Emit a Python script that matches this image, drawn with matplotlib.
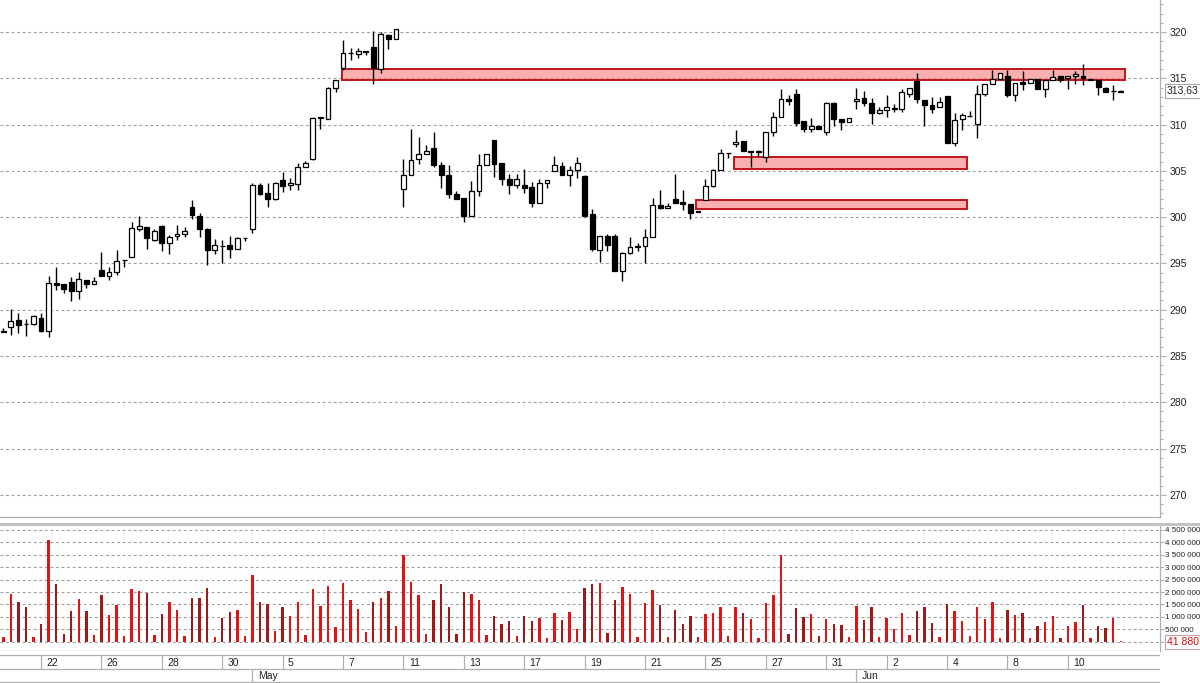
import matplotlib
matplotlib.use('Agg')
import matplotlib.pyplot as plt
import matplotlib.transforms as mtransforms
from matplotlib.patches import Rectangle
from matplotlib.lines import Line2D
from matplotlib.ticker import MultipleLocator, FixedLocator
import numpy as np

# ---------------- data (2-hour bars, 4 per session) ----------------
opens = [287.6, 288.1, 288.9, 288.45, 288.4, 289.1, 287.7, 292.9, 292.8, 293.0,
         292.0, 293.2, 292.8, 294.3, 293.6, 294.1, 295.35, 295.7, 298.7, 298.9,
         297.55, 299.0, 297.2, 298.0, 298.2, 301.1, 300.1, 298.7, 296.4, 296.9,
         297.0, 296.6, 297.7, 298.7, 303.5, 302.6, 302.0, 304.0, 303.45, 303.55,
         305.45, 306.25, 310.7, 310.6, 314.0, 316.1, 317.7, 317.65, 317.85, 318.35,
         316.05, 319.7, 319.3, 303.0, 304.6, 306.3, 306.8, 307.5, 305.6, 304.5,
         302.55, 302.1, 300.1, 302.8, 305.6, 308.3, 305.8, 304.1, 303.5, 303.5,
         303.3, 301.5, 303.7, 305.0, 305.5, 304.6, 305.05, 304.4, 300.3, 296.5,
         298.0, 298.0, 294.2, 296.1, 296.8, 296.9, 297.8, 301.3, 301.0, 302.0,
         301.6, 301.4, 300.55, 301.8, 303.4, 305.05, 306.9, 307.9, 308.2, 307.05,
         307.05, 306.5, 309.2, 310.8, 312.8, 313.35, 310.35, 309.55, 309.8, 309.2,
         312.3, 310.65, 310.3, 312.6, 312.9, 312.3, 311.25, 311.55, 311.7, 311.7,
         313.35, 314.7, 312.7, 312.1, 311.9, 313.05, 308.0, 310.65, 310.9, 310.1,
         313.35, 314.4, 314.95, 315.3, 313.15, 314.6, 314.5, 314.95, 313.8, 314.85,
         315.3, 315.0, 315.2, 315.3, 314.85, 314.85, 313.9, 313.6, 313.5]
highs = [288.0, 290.1, 289.6, 289.0, 289.45, 289.6, 293.6, 294.6, 292.8, 293.5,
         294.1, 293.2, 293.5, 296.25, 294.6, 296.4, 295.4, 299.5, 300.1, 298.9,
         298.7, 299.1, 298.1, 299.1, 298.9, 301.8, 300.4, 298.8, 297.6, 297.5,
         298.0, 297.8, 297.75, 303.7, 303.7, 303.7, 303.8, 304.9, 304.2, 305.8,
         306.05, 310.8, 310.8, 314.05, 314.8, 319.1, 318.3, 318.3, 317.9, 320.1,
         320.0, 319.75, 320.35, 306.3, 309.5, 308.7, 307.8, 309.2, 306.0, 305.6,
         302.8, 302.1, 303.9, 306.8, 306.8, 308.3, 305.8, 304.7, 304.7, 305.2,
         303.8, 304.1, 304.0, 306.6, 306.0, 305.5, 306.5, 304.5, 300.9, 298.0,
         298.2, 298.2, 296.2, 297.8, 297.2, 298.7, 302.1, 302.9, 301.5, 304.7,
         302.9, 301.4, 300.7, 304.1, 305.2, 307.4, 306.95, 309.45, 308.2, 307.1,
         307.3, 309.2, 311.4, 313.8, 313.2, 313.8, 310.35, 310.75, 309.8, 312.45,
         312.45, 310.65, 310.7, 314.0, 313.6, 312.9, 311.9, 313.2, 312.25, 313.8,
         313.9, 315.6, 312.7, 313.0, 312.95, 313.05, 311.3, 311.3, 311.45, 314.3,
         314.4, 315.9, 315.6, 315.9, 314.5, 315.8, 314.95, 314.95, 314.85, 315.9,
         315.3, 315.3, 315.75, 316.55, 314.9, 314.85, 314.05, 314.25, 313.7]
lows = [287.55, 287.3, 287.5, 287.2, 288.3, 287.6, 287.0, 292.1, 291.8, 290.9,
        291.2, 292.3, 292.8, 293.6, 293.2, 293.7, 294.6, 295.7, 298.5, 296.6,
        297.4, 296.3, 296.0, 297.5, 297.9, 299.8, 297.9, 294.8, 296.0, 295.0,
        295.6, 296.6, 297.4, 298.3, 302.4, 301.1, 301.9, 302.75, 302.9, 302.9,
        305.45, 306.2, 309.5, 310.6, 313.55, 315.95, 317.0, 317.2, 317.5, 314.4,
        315.6, 318.2, 319.25, 301.1, 304.6, 305.7, 306.8, 305.4, 303.1, 302.1,
        302.0, 299.5, 300.1, 302.3, 305.6, 304.35, 303.5, 302.45, 303.2, 302.6,
        301.1, 301.5, 303.2, 305.0, 304.5, 303.4, 304.25, 300.0, 296.3, 295.1,
        296.3, 294.2, 293.1, 296.0, 296.3, 295.0, 297.8, 300.9, 301.0, 301.55,
        300.75, 299.75, 300.55, 301.8, 303.3, 305.05, 306.4, 307.6, 307.1, 305.4,
        306.6, 306.0, 308.75, 310.8, 312.1, 309.8, 309.2, 309.2, 309.5, 308.85,
        309.8, 309.4, 310.3, 311.7, 312.0, 310.1, 311.1, 310.8, 311.35, 311.35,
        313.0, 312.3, 309.9, 311.25, 311.85, 308.0, 307.65, 309.45, 310.8, 308.6,
        313.05, 314.4, 314.95, 312.95, 312.6, 313.7, 314.5, 313.8, 313.0, 314.85,
        314.6, 313.85, 314.4, 314.3, 314.85, 313.15, 313.5, 312.7, 313.5]
closes = [287.6, 288.75, 288.35, 288.4, 289.35, 287.65, 292.9, 292.7, 292.2, 292.0,
          293.3, 292.8, 293.1, 293.6, 294.1, 295.3, 295.4, 298.8, 299.0, 297.7,
          298.5, 297.25, 297.9, 298.2, 298.5, 300.2, 298.7, 296.4, 297.0, 296.85,
          296.6, 297.7, 297.75, 303.5, 302.5, 302.0, 303.7, 303.4, 303.7, 305.45,
          305.9, 310.7, 310.75, 314.0, 314.8, 317.7, 317.75, 317.9, 317.9, 316.1,
          319.75, 319.3, 320.3, 304.6, 306.15, 306.8, 307.15, 305.6, 304.5, 302.55,
          302.0, 300.1, 302.8, 305.6, 306.8, 305.75, 304.1, 303.5, 304.1, 303.2,
          301.5, 303.7, 304.0, 305.6, 304.6, 305.1, 305.9, 300.1, 296.6, 298.0,
          297.0, 294.2, 296.15, 296.8, 296.85, 297.8, 301.3, 301.0, 301.2, 301.55,
          301.4, 300.5, 300.7, 303.4, 305.1, 306.9, 306.95, 308.1, 307.1, 307.05,
          307.1, 309.2, 310.8, 312.8, 312.6, 310.2, 309.55, 309.8, 309.5, 312.3,
          310.65, 310.3, 310.7, 312.8, 312.3, 311.25, 311.55, 311.85, 311.75, 313.5,
          313.9, 312.8, 312.15, 311.7, 312.45, 308.0, 310.5, 311.0, 310.95, 313.35,
          314.4, 314.95, 315.55, 313.15, 314.5, 314.4, 314.95, 313.8, 314.85, 315.15,
          314.85, 315.3, 315.5, 315.0, 314.85, 314.05, 313.5, 313.6, 313.63]
volumes = [175000, 1920000, 1590000, 1410000, 190000, 710000, 4100000, 2340000, 300000, 1240000,
           1720000, 1240000, 260000, 1880000, 1090000, 1490000, 230000, 2140000, 2040000, 1950000,
           260000, 1120000, 1590000, 1290000, 230000, 1750000, 1750000, 2150000, 190000, 970000,
           1180000, 1280000, 230000, 2670000, 1590000, 1520000, 420000, 1380000, 1050000, 1610000,
           260000, 2110000, 1450000, 2240000, 580000, 2380000, 1680000, 1320000, 390000, 1590000,
           1770000, 2040000, 650000, 3510000, 2410000, 1880000, 300000, 1680000, 2340000, 1380000,
           320000, 1990000, 1910000, 1680000, 280000, 1050000, 710000, 830000, 230000, 1050000,
           830000, 950000, 160000, 1140000, 860000, 1180000, 510000, 2180000, 2340000, 2380000,
           360000, 1680000, 2220000, 1910000, 200000, 1550000, 2080000, 1490000, 170000, 1280000,
           700000, 1050000, 190000, 1100000, 1160000, 1410000, 230000, 1410000, 1140000, 910000,
           160000, 1550000, 1880000, 3490000, 300000, 1340000, 980000, 1100000, 230000, 910000,
           710000, 690000, 190000, 1440000, 870000, 1380000, 190000, 970000, 510000, 1140000,
           260000, 1250000, 1410000, 740000, 190000, 1510000, 1250000, 830000, 230000, 1410000,
           910000, 1610000, 160000, 1280000, 1080000, 1140000, 150000, 650000, 790000, 1030000,
           160000, 650000, 780000, 1480000, 130000, 650000, 540000, 940000, 41880]

day_labels = ['22', '26', '28', '30', '5', '7', '11', '13', '17', '19', '21',
              '25', '27', '31', '2', '4', '8', '10']
day_label_bars = [5, 13, 21, 29, 37, 45, 53, 61, 69, 77, 85, 93, 101, 109, 117,
                  125, 133, 141]
month_labels = ['May', 'Jun']
month_label_bars = [33, 113]

# support / resistance zones: (first bar, last bar, low price, high price)
zone_starts = [44.8, 96.8, 91.75]
zone_ends = [148.6, 127.6, 127.6]
zone_lows = [314.8, 305.17, 300.83]
zone_highs = [316.0, 306.53, 301.86]

price_ticks = [270, 275, 280, 285, 290, 295, 300, 305, 310, 315, 320]
volume_ticks = [0, 500000, 1000000, 1500000, 2000000, 2500000, 3000000,
                3500000, 4000000, 4500000]
last_price_text = '313,63'
last_volume_text = '41 880'

# ---------------- figure layout ----------------
W, H = 1200, 683
fig = plt.figure(figsize=(12, 6.83), dpi=100)
plt.rcParams['font.family'] = ['Liberation Sans', 'DejaVu Sans']


def fy(py):
    return 1 - py / H


PLOT_R = 1160 / W
ax = fig.add_axes([0, fy(517), PLOT_R, fy(0) - fy(517)])
axv = fig.add_axes([0, fy(651), PLOT_R, fy(525) - fy(651)])
axd = fig.add_axes([0, fy(683), PLOT_R, fy(651) - fy(683)])

XL = (-0.44, 153.2)
for a in (ax, axv, axd):
    a.set_xlim(*XL)
    a.tick_params(axis='x', bottom=False, labelbottom=False, top=False)

o = np.array(opens)
h = np.array(highs)
l = np.array(lows)
c = np.array(closes)
v = np.array(volumes, dtype=float)
x = np.arange(len(o))
up = c >= o

grid_kw = dict(color='#9c9c9c', lw=0.8, ls=(0, (2.5, 2.5)))
axis_col = '#b0b0b0'
txt_col = '#222222'

# ---------------- price pane ----------------
ax.set_ylim(267.6, 323.46)
ax.set_axisbelow(True)
ax.yaxis.tick_right()
ax.yaxis.set_major_locator(FixedLocator(price_ticks))
ax.yaxis.set_minor_locator(MultipleLocator(1))
ax.grid(axis='y', which='major', **grid_kw)
ax.tick_params(axis='y', which='major', length=4, width=0.8, color=axis_col,
               labelsize=7.5, labelcolor=txt_col, pad=3)
ax.tick_params(axis='y', which='minor', length=2, width=0.8, color=axis_col)
for s in ('top', 'left'):
    ax.spines[s].set_visible(False)
for s in ('right', 'bottom'):
    ax.spines[s].set_color(axis_col)
    ax.spines[s].set_linewidth(0.9)

for zs, ze, zl, zh in zip(zone_starts, zone_ends, zone_lows, zone_highs):
    ax.add_patch(Rectangle((zs, zl), ze - zs, zh - zl, facecolor='#f47a7a',
                           alpha=0.6, edgecolor='none', zorder=1.5))
    ax.add_patch(Rectangle((zs, zl), ze - zs, zh - zl, facecolor='none',
                           edgecolor='#c0141c', lw=1.4, zorder=1.6))

ax.vlines(x, l, h, color='black', lw=1.0, zorder=3)
body_low = np.minimum(o, c)
body_h = np.maximum(np.abs(c - o), 0.07)
ax.bar(x[up], body_h[up], bottom=body_low[up], width=0.64, facecolor='white',
       edgecolor='black', lw=0.9, zorder=4)
ax.bar(x[~up], body_h[~up], bottom=body_low[~up], width=0.64, facecolor='black',
       edgecolor='black', lw=0.9, zorder=4)

trans_p = mtransforms.blended_transform_factory(ax.transAxes, ax.transData)
ax.text(1 + 7 / 1160, c[-1], last_price_text, transform=trans_p, fontsize=7.5,
        color=txt_col, ha='left', va='center', clip_on=False,
        bbox=dict(boxstyle='square,pad=0.18', fc='white', ec='#a8a8a8', lw=0.8))

# ---------------- volume pane ----------------
axv.set_ylim(-375000, 4700000)
axv.set_axisbelow(True)
axv.yaxis.tick_right()
axv.yaxis.set_major_locator(FixedLocator(volume_ticks))
axv.set_yticklabels(['' if t == 0 else f'{t:,}'.replace(',', ' ') for t in volume_ticks])
axv.grid(axis='y', which='major', **grid_kw)
axv.tick_params(axis='y', length=3, width=0.8, color=axis_col, labelsize=5.8,
                labelcolor=txt_col, pad=0.8)
axv.spines['top'].set_visible(False)
axv.spines['left'].set_visible(False)
for s in ('right', 'bottom'):
    axv.spines[s].set_color(axis_col)
    axv.spines[s].set_linewidth(0.9)
vcols = np.where(up, '#e01414', '#9e1a1a')
axv.bar(x, v, width=0.32, color=vcols, zorder=3)
trans_v = mtransforms.blended_transform_factory(axv.transAxes, axv.transData)
axv.text(1 + 7 / 1160, 0, last_volume_text, transform=trans_v, fontsize=7.5,
         color='#d01010', ha='left', va='center', clip_on=False,
         bbox=dict(boxstyle='square,pad=0.18', fc='white', ec='#c8a0a0', lw=0.8))

# separator band between panes
fig.add_artist(Line2D([0, 1], [fy(523.5), fy(523.5)], color='#c4c4c4', lw=2.2))

# ---------------- date axis ----------------
axd.set_ylim(0, 1)
axd.set_yticks([])
for s in axd.spines.values():
    s.set_visible(False)


def dy(py):
    return (683 - py) / 32.0


for yy in (655, 669, 682):
    axd.axhline(dy(yy), color=axis_col, lw=0.9)
axd.vlines(day_label_bars, dy(669), dy(655), color=axis_col, lw=0.9)
for b, t in zip(day_label_bars, day_labels):
    axd.text(b + 0.7, dy(662.5), t, fontsize=7.5, color=txt_col, ha='left', va='center')
axd.vlines(month_label_bars, dy(682), dy(669), color=axis_col, lw=0.9)
for b, t in zip(month_label_bars, month_labels):
    axd.text(b + 0.7, dy(676), t, fontsize=7.5, color=txt_col, ha='left', va='center')

fig.savefig('out.png', dpi=100)
